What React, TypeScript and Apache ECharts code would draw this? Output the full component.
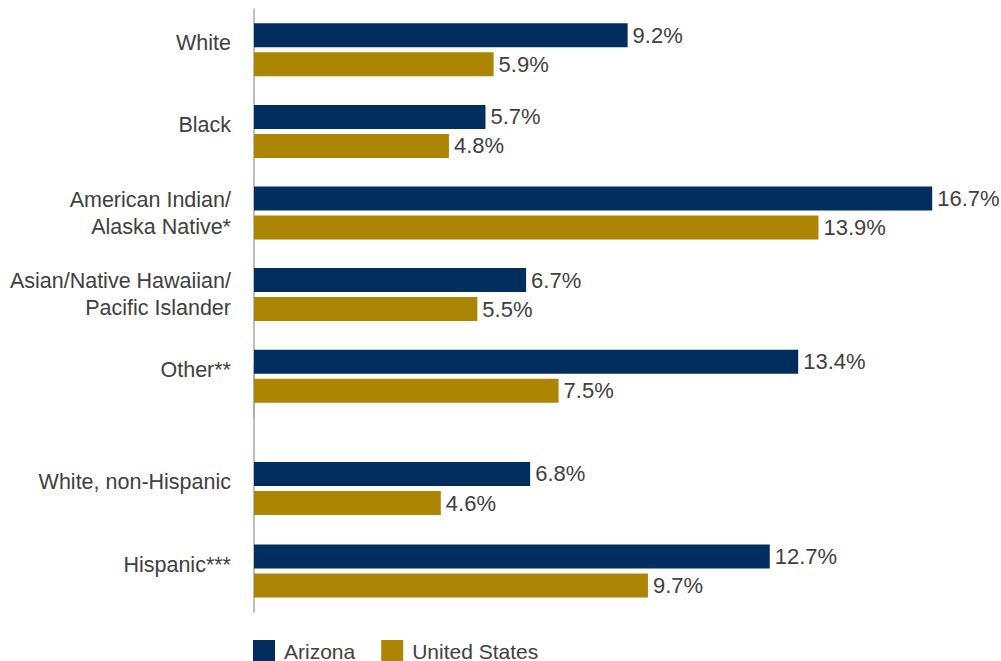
import React, { useEffect, useRef } from "react";
import * as echarts from "echarts";

const raceCategories = [
  "White",
  "Black",
  "American Indian/\nAlaska Native*",
  "Asian/Native Hawaiian/\nPacific Islander",
  "Other**",
];
const arizonaRace = [9.2, 5.7, 16.7, 6.7, 13.4];
const usRace = [5.9, 4.8, 13.9, 5.5, 7.5];

const ethnicityCategories = ["White, non-Hispanic", "Hispanic***"];
const arizonaEthnicity = [6.8, 12.7];
const usEthnicity = [4.6, 9.7];

const seriesNames = ["Arizona", "United States"];

const NAVY = "#022D5F";
const GOLD = "#AD8504";
const TEXT = "#404040";
const FONT = "'Liberation Sans', Arial, Helvetica, sans-serif";

export default function App() {
  const ref = useRef<HTMLDivElement>(null);

  useEffect(() => {
    if (!ref.current) return;
    const chart = echarts.init(ref.current, null, { renderer: "svg" });

    const ethCats = ["", ...ethnicityCategories];
    const azEth = [null, ...arizonaEthnicity];
    const usEth = [null, ...usEthnicity];

    const label = {
      show: true,
      position: "right",
      distance: 5,
      color: TEXT,
      fontSize: 22,
      fontFamily: FONT,
      formatter: (p: any) => (p.value == null ? "" : Number(p.value).toFixed(1) + "%"),
    };

    const yAxisCommon = {
      type: "category",
      inverse: true,
      axisTick: { show: false },
      axisLine: { show: true, lineStyle: { color: "#a8a8a8", width: 1.5 } },
      axisLabel: {
        color: TEXT,
        fontFamily: FONT,
        margin: 23,
        align: "right",
        formatter: (v: string) =>
          v.includes("\n")
            ? v.split("\n").map((l) => "{m|" + l + "}").join("\n")
            : "{s|" + v + "}",
        rich: {
          s: { fontSize: 21.5, fontFamily: FONT, color: TEXT, lineHeight: 27, padding: [0, 0, 13, 0] },
          m: { fontSize: 21.5, fontFamily: FONT, color: TEXT, lineHeight: 27, padding: [0, 0, 0, 0] },
        },
      },
    };

    const barCommon = {
      type: "bar",
      barWidth: 24,
      barGap: "21%",
      label,
    };

    chart.setOption({
      animation: false,
      backgroundColor: "#ffffff",
      textStyle: { fontFamily: FONT },
      legend: {
        data: seriesNames,
        left: 253,
        top: 640,
        padding: 0,
        itemWidth: 22,
        itemHeight: 22,
        itemGap: 26,
        icon: "rect",
        textStyle: { color: TEXT, fontSize: 21, fontFamily: FONT, padding: [0, 0, 0, 4] },
      },
      grid: [
        { left: 254, width: 731, top: 9, height: 408 },
        { left: 254, width: 731, top: 364.75, height: 247.5 },
      ],
      xAxis: [
        { type: "value", gridIndex: 0, min: 0, max: 18, show: false },
        { type: "value", gridIndex: 1, min: 0, max: 18, show: false },
      ],
      yAxis: [
        { ...yAxisCommon, gridIndex: 0, data: raceCategories },
        { ...yAxisCommon, gridIndex: 1, data: ethCats },
      ],
      series: [
        { ...barCommon, name: seriesNames[0], xAxisIndex: 0, yAxisIndex: 0, data: arizonaRace, itemStyle: { color: NAVY } },
        { ...barCommon, name: seriesNames[1], xAxisIndex: 0, yAxisIndex: 0, data: usRace, itemStyle: { color: GOLD } },
        { ...barCommon, name: seriesNames[0], xAxisIndex: 1, yAxisIndex: 1, data: azEth, itemStyle: { color: NAVY } },
        { ...barCommon, name: seriesNames[1], xAxisIndex: 1, yAxisIndex: 1, data: usEth, itemStyle: { color: GOLD } },
      ],
    });

    return () => chart.dispose();
  }, []);

  return (
    <div
      ref={ref}
      style={{ position: "absolute", left: 0, top: 0, width: 1001, height: 661 }}
    />
  );
}
